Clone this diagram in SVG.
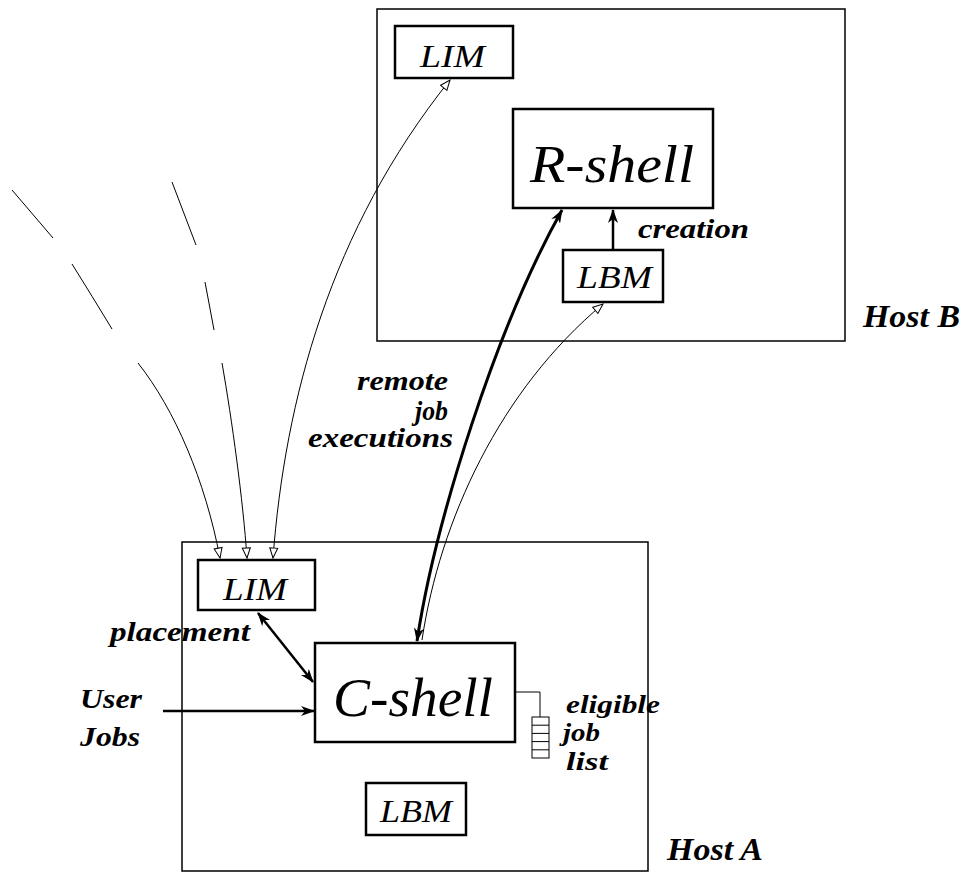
<svg xmlns="http://www.w3.org/2000/svg" width="966" height="874" viewBox="0 0 966 874">
<style>
.host{fill:none;stroke:#000;stroke-width:1.5}
.box{fill:#fff;stroke:#000;stroke-width:2.5}
.t{font-family:"Liberation Serif","DejaVu Serif",serif;font-style:italic;fill:#000}
.lbl{font-family:"Liberation Serif","DejaVu Serif",serif;font-style:italic;font-weight:bold;fill:#000;font-size:28px}
.sm{font-size:25px}
.thin{fill:none;stroke:#000;stroke-width:1}
.thick{fill:none;stroke:#000;stroke-width:3}
.med{fill:none;stroke:#000;stroke-width:2.5}
</style>
<defs>
<marker id="fa" markerUnits="userSpaceOnUse" viewBox="0 0 14 10" refX="13" refY="5" markerWidth="14" markerHeight="10" orient="auto-start-reverse">
<path d="M0,0 L14,5 L0,10 L4,5 z" fill="#000"/>
</marker>
<marker id="oa" markerUnits="userSpaceOnUse" viewBox="-1 -1 12 10" refX="10" refY="4" markerWidth="12" markerHeight="10" orient="auto-start-reverse">
<path d="M0,0 L10,4 L0,8 z" fill="#fff" stroke="#000" stroke-width="1"/>
</marker>
</defs>

<g id="hostB">
<rect class="host" x="377" y="9" width="468" height="332"/>
<text class="lbl" x="863" y="327" textLength="97" lengthAdjust="spacingAndGlyphs" style="font-size:31px">Host B</text>
</g>
<g id="hostA">
<rect class="host" x="182" y="542" width="466" height="329"/>
<text class="lbl" x="667" y="860" textLength="96" lengthAdjust="spacingAndGlyphs" style="font-size:31px">Host A</text>
</g>

<g id="connectors">
<path class="thin" d="M12,190 L53,238 M72,264 Q92,296 112,329 M138,363 C175,410 205,480 220,558" marker-end="url(#oa)"/>
<path class="thin" d="M172,182 L196,245 M205,282 L214,330 M222,363 C232,420 243,500 247,558" marker-end="url(#oa)"/>
<path class="thin" d="M273,558 C285,400 330,230 450,80" marker-start="url(#oa)" marker-end="url(#oa)"/>
<path class="thin" d="M422,640 C440,520 500,390 603,304" marker-end="url(#oa)"/>
<path class="thick" d="M417,641 C435,522 496,328 562,210" marker-start="url(#fa)" marker-end="url(#fa)"/>
<path class="med" d="M613,250 L613,210" marker-end="url(#fa)"/>
<path class="med" d="M258,613 L313,682" marker-start="url(#fa)" marker-end="url(#fa)"/>
<path class="med" d="M163,711 L314,711" marker-end="url(#fa)"/>
<path class="thin" d="M515,692 H540 V717" stroke-width="1.3"/>
</g>

<g id="limB">
<rect class="box" x="395" y="26" width="118" height="52"/>
<text class="t" x="420" y="67" textLength="65" lengthAdjust="spacingAndGlyphs" style="font-size:32px">LIM</text>
</g>
<g id="rshell">
<rect class="box" x="513" y="109" width="200" height="99"/>
<text class="t" x="530" y="182" textLength="164" lengthAdjust="spacingAndGlyphs" style="font-size:52px">R-shell</text>
</g>
<g id="lbmB">
<rect class="box" x="563" y="250" width="100" height="52"/>
<text class="t" x="577" y="288" textLength="75" lengthAdjust="spacingAndGlyphs" style="font-size:31px">LBM</text>
</g>
<g id="limA">
<rect class="box" x="198" y="560" width="117" height="50"/>
<text class="t" x="223" y="600" textLength="64" lengthAdjust="spacingAndGlyphs" style="font-size:32px">LIM</text>
</g>
<g id="cshell">
<rect class="box" x="315" y="643" width="200" height="99"/>
<text class="t" x="333" y="716" textLength="160" lengthAdjust="spacingAndGlyphs" style="font-size:54px">C-shell</text>
</g>
<g id="lbmA">
<rect class="box" x="366" y="783" width="100" height="52"/>
<text class="t" x="380" y="822" textLength="72" lengthAdjust="spacingAndGlyphs" style="font-size:31px">LBM</text>
</g>
<g id="eligible-list">
<rect x="532" y="717" width="17" height="41" fill="#fff" stroke="#000" stroke-width="1"/>
<path d="M532,725.2 H549 M532,733.4 H549 M532,741.6 H549 M532,749.8 H549" stroke="#000" stroke-width="1"/>
</g>

<g id="labels">
<text class="lbl" x="638" y="238" textLength="111" lengthAdjust="spacingAndGlyphs">creation</text>
<text class="lbl" x="357" y="390" textLength="91" lengthAdjust="spacingAndGlyphs">remote</text>
<text class="lbl" x="415" y="420" textLength="33" lengthAdjust="spacingAndGlyphs">job</text>
<text class="lbl" x="308" y="447" textLength="145" lengthAdjust="spacingAndGlyphs">executions</text>
<text class="lbl" x="110" y="641" textLength="140" lengthAdjust="spacingAndGlyphs">placement</text>
<text class="lbl" x="80" y="708" textLength="62" lengthAdjust="spacingAndGlyphs">User</text>
<text class="lbl" x="80" y="746" textLength="60" lengthAdjust="spacingAndGlyphs">Jobs</text>
<text class="lbl sm" x="566" y="713" textLength="94" lengthAdjust="spacingAndGlyphs">eligible</text>
<text class="lbl sm" x="563" y="741" textLength="37" lengthAdjust="spacingAndGlyphs">job</text>
<text class="lbl sm" x="566" y="770" textLength="42" lengthAdjust="spacingAndGlyphs">list</text>
</g>
</svg>
